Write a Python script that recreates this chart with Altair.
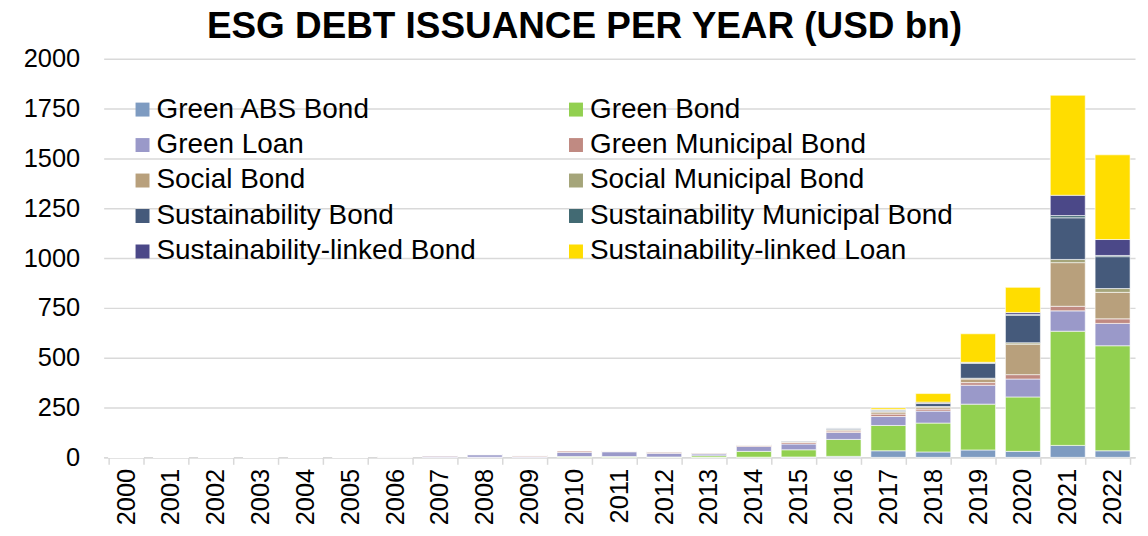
import altair as alt
import pandas as pd

years = [str(y) for y in range(2000, 2023)]

series = [
    "Green ABS Bond", "Green Bond", "Green Loan", "Green Municipal Bond",
    "Social Bond", "Social Municipal Bond", "Sustainability Bond",
    "Sustainability Municipal Bond", "Sustainability-linked Bond",
    "Sustainability-linked Loan",
]
colors = ["#7e9bc1", "#92d050", "#9a99c9", "#c08a82", "#b8a07c",
          "#a5a57a", "#455a7b", "#426a73", "#4b4888", "#ffdd00"]

green_abs   = [0, 0, 0, 0, 0, 0, 0, 0, 0, 0, 1, 1, 0, 0, 1, 2, 5, 33, 27, 37, 30, 60, 33]
green_bond  = [0, 0, 0, 0, 0, 0, 0, 1, 1, 1, 3, 3, 2, 8, 29, 36, 85, 127, 145, 230, 273, 573, 527]
green_loan  = [0, 0, 0, 0, 0, 0, 0, 5, 12, 3, 21, 24, 18, 9, 25, 29, 35, 45, 60, 95, 90, 102, 112]
green_muni  = [0, 0, 0, 0, 0, 0, 3, 4, 2, 6, 7, 5, 7, 4, 5, 8, 7, 12, 10, 13, 22, 23, 23]
social_bond = [0, 0, 0, 0, 0, 0, 0, 0, 0, 2, 3, 0, 1, 2, 2, 3, 5, 10, 10, 18, 153, 219, 133]
social_muni = [0, 0, 0, 0, 0, 0, 0, 0, 2, 0, 0, 0, 1, 1, 1, 1, 3, 3, 3, 4, 7, 16, 19]
sust_bond   = [0, 0, 0, 0, 0, 0, 0, 0, 0, 0, 0, 0, 0, 0, 1, 5, 7, 7, 15, 75, 138, 209, 160]
sust_muni   = [0, 0, 0, 0, 0, 0, 0, 0, 0, 0, 0, 0, 0, 0, 0, 0, 1, 1, 2, 3, 5, 11, 6]
slb         = [0, 0, 0, 0, 0, 0, 0, 0, 0, 0, 0, 0, 0, 0, 0, 0, 0, 2, 5, 2, 9, 102, 80]
sll         = [0, 0, 0, 0, 0, 0, 0, 0, 0, 0, 0, 0, 0, 0, 0, 0, 0, 8, 43, 143, 126, 502, 425]

values = [green_abs, green_bond, green_loan, green_muni, social_bond,
          social_muni, sust_bond, sust_muni, slb, sll]

rows = []
for i, (name, vals) in enumerate(zip(series, values)):
    for y, v in zip(years, vals):
        rows.append({"Year": y, "Type": name, "Value": v, "order": i})
df = pd.DataFrame(rows)

FONT = "Liberation Sans"

chart = alt.Chart(df).mark_bar(stroke="white", strokeWidth=0.6).encode(
    x=alt.X("Year:N", sort=years, title=None,
            scale=alt.Scale(paddingInner=0.22, paddingOuter=0.11),
            axis=alt.Axis(labelAngle=-90, labelFontSize=25.5, labelFont=FONT,
                          labelColor="#000000", domainColor="#d9d9d9", domainWidth=1.5,
                          tickColor="#d9d9d9", tickWidth=1.5, tickSize=7, tickBand="extent",
                          labelPadding=4, grid=False)),
    y=alt.Y("Value:Q", title=None,
            scale=alt.Scale(domain=[0, 2000], nice=False),
            axis=alt.Axis(values=[0, 250, 500, 750, 1000, 1250, 1500, 1750, 2000],
                          format="d",
                          labelFontSize=25.5, labelFont=FONT, labelColor="#000000",
                          domain=False, ticks=False, tickSize=0, labelPadding=24,
                          gridColor="#d9d9d9", gridWidth=1.5)),
    color=alt.Color("Type:N", scale=alt.Scale(domain=series, range=colors),
                    legend=alt.Legend(title=None, orient="none", legendX=25, legendY=37,
                                      direction="horizontal",
                                      columns=2, columnPadding=86, rowPadding=7.6,
                                      symbolType="square", symbolSize=196, symbolStrokeWidth=0,
                                      labelFontSize=28, labelFont=FONT,
                                      labelColor="#000000", labelOffset=0, labelLimit=600)),
    order=alt.Order("order:Q", sort="ascending"),
).properties(
    width=1035, height=400,
    padding={"left": 96, "top": 50, "right": 5, "bottom": 80},
    autosize=alt.AutoSizeParams(type="none"),
    title=alt.TitleParams("ESG DEBT ISSUANCE PER YEAR (USD bn)", font=FONT,
                          fontSize=37, fontWeight="bold", color="#000000",
                          anchor="middle", dx=-35, dy=5, offset=6),
).configure_view(stroke=None)

chart.save("out.html", embed_options={"renderer": "svg", "actions": False})
